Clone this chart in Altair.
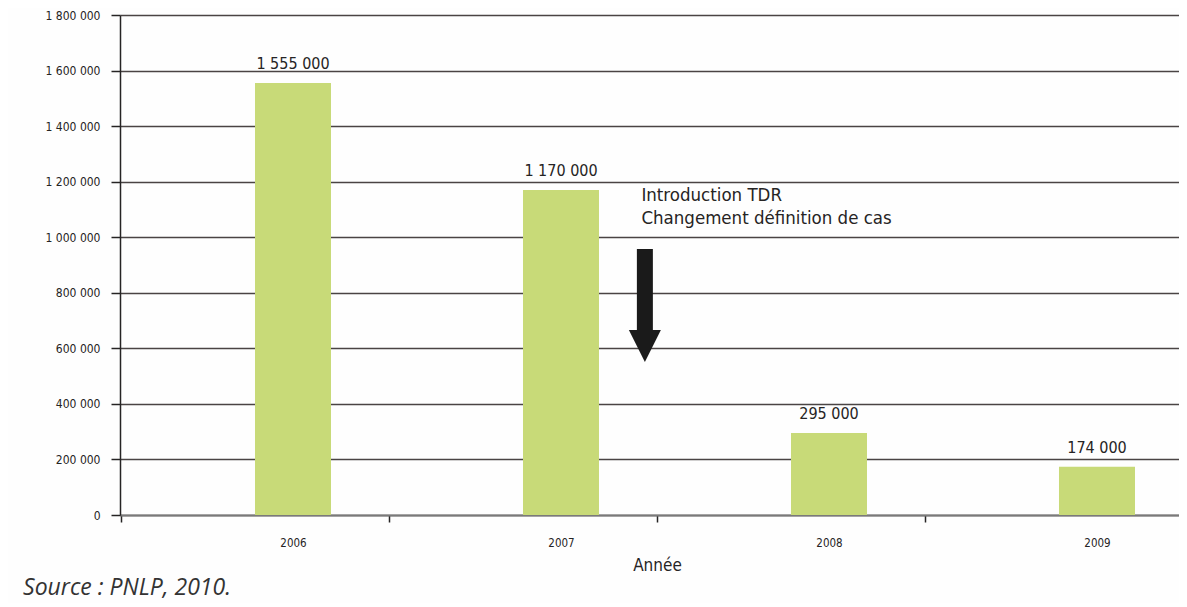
import altair as alt
import pandas as pd

# ---- data ----
years = [2006, 2007, 2008, 2009]
cases = [1555000, 1170000, 295000, 174000]
case_labels = ["1 555 000", "1 170 000", "295 000", "174 000"]
y_ticks = [0, 200000, 400000, 600000, 800000, 1000000, 1200000, 1400000, 1600000, 1800000]

note_lines = ["Introduction TDR", "Changement définition de cas"]
note_year = [2007.30, 2007.30]
note_cases = [1152000, 1069200]

arrow_year = [2007.313]
arrow_top = [957600]
arrow_base = [658800]
arrow_head = [608400]

NARROW = "DejaVu Sans Condensed, Liberation Sans Narrow, sans-serif"
DARK = "#262424"

bars_df = pd.DataFrame({"year": years, "cases": cases, "label": case_labels})
notes_df = pd.DataFrame({"year": note_year, "cases": note_cases, "label": note_lines})
shaft_df = pd.DataFrame({"year": arrow_year, "cases": arrow_top, "cases2": arrow_base})
head_df = pd.DataFrame({"year": arrow_year, "cases": arrow_head})

x_scale = alt.Scale(domain=[2005.3545, 2009.306], nice=False, zero=False, padding=0)
y_scale = alt.Scale(domain=[0, 1800000], nice=False, padding=0)

x_axis = alt.Axis(
    values=years, format="d", title="Année",
    tickOffset=-172, labelOffset=172, labelFlush=False, labelOverlap=False,
    grid=False, domainColor="#7a7a7a", domainWidth=2,
    tickColor=DARK, tickWidth=1.5, tickSize=7,
    labelPadding=15, labelFont=NARROW, labelFontSize=11.5, labelColor=DARK,
    titleFont=NARROW, titleFontSize=17, titleFontWeight="normal", titleColor=DARK,
    titlePadding=9, titleX=537, titleAlign="center",
)
y_axis = alt.Axis(
    values=y_ticks, title=None,
    labelExpr="replace(replace(format(datum.value, ','), ',', ' '), ',', ' ')",
    grid=True, gridColor="#4a4444", gridWidth=1.6,
    domainColor=DARK, domainWidth=1.5, tickColor=DARK, tickWidth=1.5, tickSize=9,
    labelPadding=11, labelFont=NARROW, labelFontSize=12, labelColor=DARK,
)

bars = alt.Chart(bars_df).mark_bar(size=76, color="#c8da78").encode(
    x=alt.X("year:Q", scale=x_scale, axis=x_axis),
    y=alt.Y("cases:Q", scale=y_scale, axis=y_axis),
)

values = alt.Chart(bars_df).mark_text(
    baseline="alphabetic", dy=-14, font=NARROW, fontSize=16, color=DARK
).encode(x="year:Q", y="cases:Q", text="label:N")

notes = alt.Chart(notes_df).mark_text(
    align="left", baseline="middle", font=NARROW, fontSize=18.5, color=DARK
).encode(x="year:Q", y="cases:Q", text="label:N")

shaft = alt.Chart(shaft_df).mark_rule(strokeWidth=16, strokeCap="butt", color="#1a1a1a").encode(
    x="year:Q", y="cases:Q", y2="cases2:Q"
)

head = alt.Chart(head_df).mark_point(
    shape="M-1,-1L1,-1L0,1Z", size=1024, filled=True, opacity=1, color="#1a1a1a"
).encode(x="year:Q", y="cases:Q")

chart = alt.layer(bars, values, notes, shaft, head).properties(
    width=1059, height=500,
    padding={"left": 112, "top": 7, "right": 0, "bottom": 88},
    autosize=alt.AutoSizeParams(type="none"),
    background="#fefefe",
    title=alt.TitleParams(
        "Source : PNLP, 2010.", orient="bottom", anchor="start",
        font="Open Sans", fontSize=23, fontStyle="italic", fontWeight="normal",
        color="#333333", dx=-22, offset=3,
    ),
).configure_view(stroke=None)

chart.save("out.html", embed_options={"renderer": "svg", "actions": False})
